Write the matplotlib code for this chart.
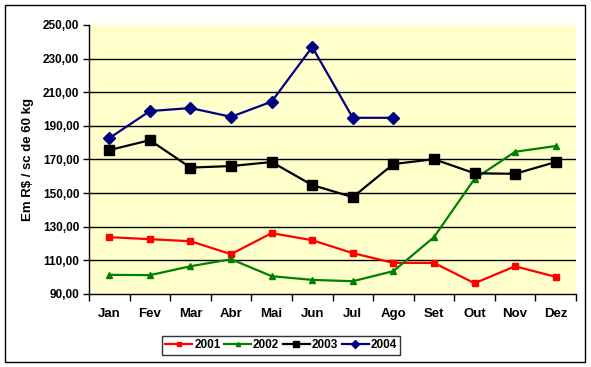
import numpy as np
import matplotlib
matplotlib.use("Agg")
import matplotlib.pyplot as plt
from matplotlib.patches import Rectangle
from matplotlib.ticker import FixedLocator, FuncFormatter

meses = ['Jan', 'Fev', 'Mar', 'Abr', 'Mai', 'Jun', 'Jul', 'Ago', 'Set', 'Out', 'Nov', 'Dez']
v2001 = [123.8, 122.6, 121.4, 113.7, 126.2, 122.0, 114.3, 108.5, 108.5, 96.4, 106.5, 100.2]
v2002 = [101.4, 101.2, 106.5, 110.7, 100.6, 98.4, 97.6, 103.6, 123.8, 158.5, 174.6, 178.0]
v2003 = [175.6, 181.5, 165.2, 166.1, 168.5, 154.8, 147.6, 167.3, 170.2, 161.8, 161.5, 168.5]
v2004 = [182.7, 198.8, 200.6, 195.4, 204.4, 236.9, 194.8, 194.8]

plt.rcParams['font.family'] = ['Liberation Sans', 'DejaVu Sans']
plt.rcParams['font.weight'] = 'bold'

fig = plt.figure(figsize=(5.91, 3.67), dpi=100)
ax = fig.add_axes([89 / 591, 1 - 294 / 367, (576 - 89) / 591, (294 - 25) / 367])
ax.set_facecolor('#FFFFCC')

x = np.arange(len(meses))
ax.plot(x, v2001, color='#FF0000', lw=1.6, marker='s', ms=4.5, label='2001')
ax.plot(x, v2002, color='#008000', lw=1.6, marker='^', ms=5, label='2002')
ax.plot(x, v2003, color='#000000', lw=1.6, marker='s', ms=7, label='2003')
ax.plot(x[:len(v2004)], v2004, color='#000080', lw=1.6, marker='D', ms=6.5, label='2004')

ax.set_xlim(-0.5, 11.5)
ax.set_ylim(90, 250)
ax.set_yticks(np.arange(90, 251, 20))
ax.yaxis.set_major_formatter(FuncFormatter(lambda v, p: f'{v:.2f}'.replace('.', ',')))
for yv in np.arange(110, 250, 20):
    ax.axhline(yv, color='black', lw=1, zorder=1)

ax.set_xticks(x)
ax.set_xticklabels(meses, fontsize=9.5, fontweight='bold')
ax.xaxis.set_minor_locator(FixedLocator(np.arange(-0.5, 12, 1)))
ax.tick_params(axis='x', which='major', length=0, pad=10)
ax.tick_params(axis='x', which='minor', length=5, width=1, direction='out', color='black')
ax.tick_params(axis='y', length=4, width=1, direction='out', labelsize=8.5, pad=3)
for lab in ax.get_yticklabels():
    lab.set_fontweight('bold')

for s in ['top', 'right']:
    ax.spines[s].set_visible(False)
for s in ['left', 'bottom']:
    ax.spines[s].set_linewidth(1)
    ax.spines[s].set_color('black')

ax.set_ylabel('Em R$ / sc de 60 kg', fontsize=9.5, fontweight='bold', labelpad=6)

leg = fig.legend(loc='center', bbox_to_anchor=((161 + 401) / 2 / 591, 1 - 345.5 / 367),
                 ncol=4, fontsize=8.5, frameon=True, fancybox=False, edgecolor='black',
                 handlelength=2.3, handletextpad=0.15, columnspacing=0.3,
                 borderpad=0.3, borderaxespad=0, markerscale=0.6)
leg.get_frame().set_linewidth(1)

fig.patches.append(Rectangle((5 / 591, 1 - 362 / 367), 580 / 591, 357 / 367,
                             transform=fig.transFigure, fill=False,
                             edgecolor='black', lw=1))

fig.savefig('out.png', dpi=100)
